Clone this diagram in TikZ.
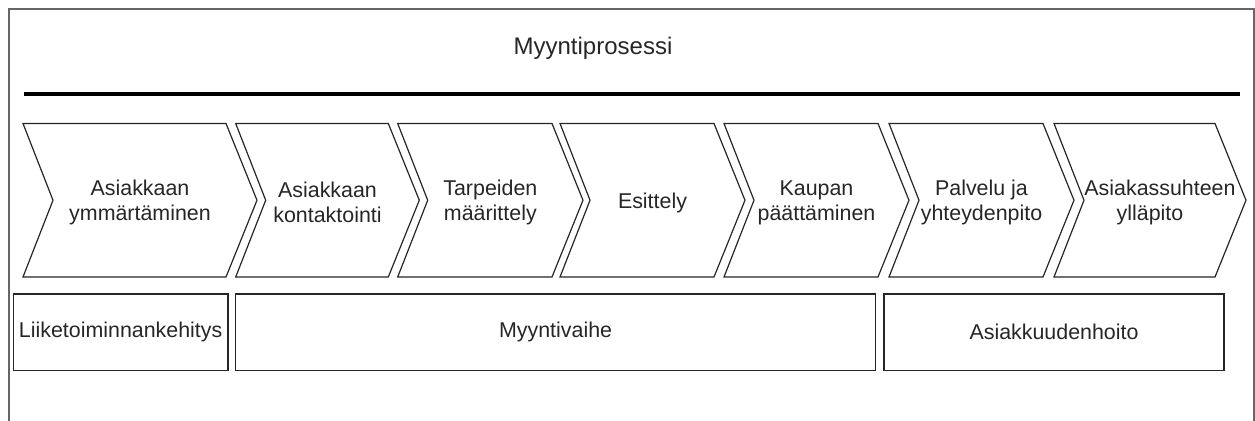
\documentclass[tikz,border=0pt]{standalone}
\usepackage{fontspec}
\setmainfont{Liberation Sans}
\begin{document}
\begin{tikzpicture}[x=0.5pt,y=-0.5pt,
  frameline/.style={draw=black!60, line width=0.6pt},
  chev/.style={draw=black!85, line width=0.6pt, fill=white, line join=miter},
  boxline/.style={draw=black!85, line width=0.6pt},
  lbl/.style={font=\fontsize{10.7}{12.5}\selectfont, text=black!85, align=center, inner sep=0pt},
  titlelbl/.style={font=\fontsize{12}{14}\selectfont, text=black!85, inner sep=0pt}]
\useasboundingbox (0,0) rectangle (1255,421);
% outer frame (open at the bottom)
\draw[frameline] (9,421) -- (9,9) -- (1254,9) -- (1254,421);
% title and rule
\node[titlelbl] (title) at (593,48) {Myyntiprosessi};
\coordinate (ruleL) at (24,94);
\coordinate (ruleR) at (1240,94);
\draw[line width=2pt] (ruleL) -- (ruleR);
% chevrons
\foreach \L/\R/\n/\t in {
  23/226/c1/{Asiakkaan\\ymmärtäminen},
  235.7/388.3/c2/{Asiakkaan\\kontaktointi},
  397.7/552/c3/{Tarpeiden\\määrittely},
  560/714/c4/{Esittely},
  724/878/c5/{Kaupan\\päättäminen},
  889/1043/c6/{Palvelu ja\\yhteydenpito},
  1054/1215/c7/{\hspace*{10pt}Asiakassuhteen\\ylläpito}} {
  \draw[chev] (\L,123.5) -- (\R,123.5) -- (\R+31,200.25) -- (\R,277) -- (\L,277) -- (\L+30,200.25) -- cycle;
  \node[lbl] (\n) at ({(\L+\R+31)/2},202.5) {\t};
}
% phase boxes
\foreach \A/\B/\n/\t in {
  13.3/228/b1/{Liiketoiminnankehitys},
  235.5/875.7/b2/{Myyntivaihe},
  884/1224/b3/{Asiakkuudenhoito}} {
  \draw[boxline] (\A,294) rectangle (\B,370.7);
  \node[lbl] (\n) at ({(\A+\B)/2},332.3) {\t};
}
\end{tikzpicture}
\end{document}
